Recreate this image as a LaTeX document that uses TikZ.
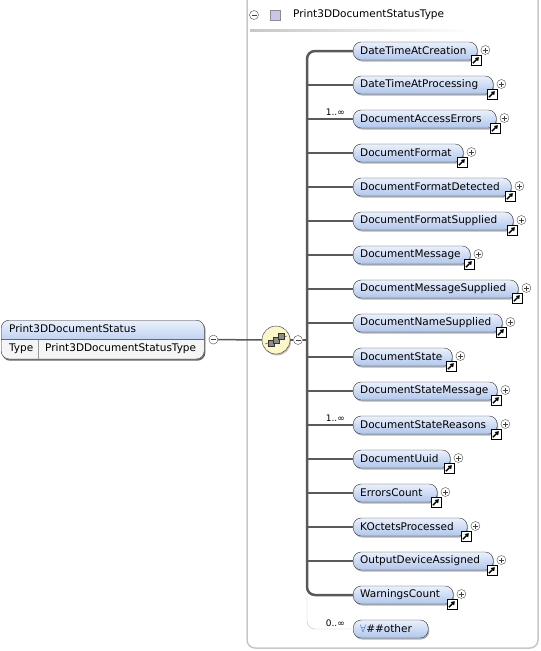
\documentclass[tikz,border=0pt]{standalone}
\usepackage{fontspec}
\setmainfont{DejaVu Sans}
\usetikzlibrary{shadows,shapes.multipart,arrows.meta,backgrounds}

\definecolor{elemtop}{RGB}{234,241,253}
\definecolor{elembot}{RGB}{176,198,236}
\definecolor{seqfill}{RGB}{252,247,200}
\definecolor{typeicon}{RGB}{205,196,236}
\definecolor{anyblue}{RGB}{40,90,200}

\tikzset{
  elem/.style={draw=black!80, rounded corners=8pt, top color=elemtop, bottom color=elembot,
    minimum height=18pt, inner xsep=7pt, inner ysep=0pt, anchor=west, align=left,
    font=\fontsize{10.5}{12}\selectfont,
    drop shadow={shadow xshift=1pt, shadow yshift=-1.5pt, fill=black!60}},
  expander/.style={circle, draw=black!70, fill=white, minimum size=9pt, inner sep=0pt},
  plusc/.style={expander, path picture={
    \draw[black!75] ([xshift=-2.5pt]path picture bounding box.center) -- ([xshift=2.5pt]path picture bounding box.center)
      ([yshift=-2.5pt]path picture bounding box.center) -- ([yshift=2.5pt]path picture bounding box.center);}},
  minusc/.style={expander, path picture={
    \draw[black!75] ([xshift=-2.5pt]path picture bounding box.center) -- ([xshift=2.5pt]path picture bounding box.center);}},
  refbox/.style={draw=black, fill=white, minimum size=10pt, inner sep=0pt, path picture={
    \draw[black, line width=1.3pt, -{Triangle[length=3.5pt,width=4.5pt]}]
      ([shift={(-3pt,-3pt)}]path picture bounding box.center) -- ([shift={(3pt,3pt)}]path picture bounding box.center);}},
  conn/.style={draw=black!65, line width=2pt},
  mult/.style={font=\fontsize{9}{10}\selectfont, inner sep=0pt, anchor=east}
}

\begin{document}
\begin{tikzpicture}[x=1pt,y=-1pt]
  \useasboundingbox (0,0) rectangle (541,651);

  % complex type frame
  \draw[black!22, line width=1.5pt, rounded corners=8pt] (247,-10) |- (538,648) -- (538,-10);
  \shade[left color=black!22, right color=white] (250,29) rectangle (470,31.5);
  \node[minusc] (tm) at (254,15) {};
  \node[draw=black!45, fill=typeicon, minimum size=10pt, inner sep=0pt] (ti) at (275,15) {};
  \node[anchor=west, inner sep=0pt, font=\fontsize{10.5}{12}\selectfont] (tn) at (293,15) {Print3DDocumentStatusType};

  % root element
  \node[rectangle split, rectangle split parts=2, draw=black!80, rounded corners=8pt,
        text width=187pt, inner xsep=8pt, inner ysep=3.5pt, anchor=north west, align=left,
        font=\fontsize{10.5}{12}\selectfont] (root) at (1,320)
    {\strut Print3DDocumentStatus \nodepart{two}\strut\makebox[29pt][l]{Type}\hspace{7pt}Print3DDocumentStatusType};
  \begin{scope}[on background layer]
    \fill[black!60, rounded corners=8pt] ([shift={(1pt,-1.5pt)}]root.north west) rectangle ([shift={(1pt,-1.5pt)}]root.south east);
    \fill[black!4, rounded corners=8pt] (root.north west) rectangle (root.south east);
    \begin{scope}
      \clip (root.north west) rectangle (root.text split east);
      \shade[top color=elemtop, bottom color=elembot, rounded corners=8pt]
        (root.north west) rectangle ([yshift=-8pt]root.text split east);
    \end{scope}
  \end{scope}
  \draw[black!40] ([xshift=37pt]root.text split west) -- ([xshift=37pt]root.south west);
  \node[minusc] (rm) at ([xshift=9pt]root.east) {};

  % sequence
  \node[circle, draw=black!80, fill=seqfill, minimum size=28pt,
        drop shadow={shadow xshift=1pt, shadow yshift=-1.5pt, fill=black!50}] (seq) at (276,340) {};
  \begin{scope}[shift={(seq.center)}]
    \draw[black!70] (-11,4) -- (11,-4);
    \foreach \d in {-5,0,5}
      \draw[black!80, fill=black!45] (\d-3,-0.7*\d-3) rectangle (\d+3,-0.7*\d+3);
  \end{scope}
  \node[minusc] (sm) at (298,340) {};
  \coordinate (bmid) at (307,340);
  \draw[conn, line width=1.5pt] (rm) -- (seq);
  \draw[conn, line width=1.5pt] (seq) -- (sm);
  \draw[conn, line width=1.5pt] (sm) -- (bmid);

  % child elements
  \foreach \name/\w [count=\i from 0] in {DateTimeAtCreation/124, DateTimeAtProcessing/140,
      DocumentAccessErrors/143, DocumentFormat/110, DocumentFormatDetected/158,
      DocumentFormatSupplied/160, DocumentMessage/117, DocumentMessageSupplied/165,
      DocumentNameSupplied/149, DocumentState/99, DocumentStateMessage/144,
      DocumentStateReasons/144, DocumentUuid/97, ErrorsCount/84, KOctetsProcessed/114,
      OutputDeviceAssigned/140, WarningsCount/100} {
    \pgfmathsetmacro\tw{\w-14}
    \coordinate (b\i) at (307,51+34*\i);
    \node[elem, text width=\tw pt] (e\i) at (353,51+34*\i) {\name};
    \node[refbox] (r\i) at ([xshift=-1.5pt]e\i.south east) {};
    \node[plusc] (p\i) at ([xshift=8pt,yshift=1pt]e\i.east) {};
  }
  \foreach \i in {1,...,15}
    \draw[conn] (b\i) -- (e\i.west);
  \draw[conn, line width=2.5pt, rounded corners=8pt] (e0.west) -| (b16) -- (e16.west);

  % any element
  \coordinate (b17) at (307,629);
  \node[elem, text width=61pt] (e17) at (353,629) {\textcolor{anyblue}{$\forall$}\#\#other};
  \draw[black!25, rounded corners=8pt] (b16) |- (e17.west);

  % occurrences
  \node[mult] (m2) at ([xshift=-8pt,yshift=7pt]e2.west) {1..∞};
  \node[mult] (m11) at ([xshift=-8pt,yshift=7pt]e11.west) {1..∞};
  \node[mult] (m17) at ([xshift=-8pt,yshift=6pt]e17.west) {0..∞};
\end{tikzpicture}
\end{document}
